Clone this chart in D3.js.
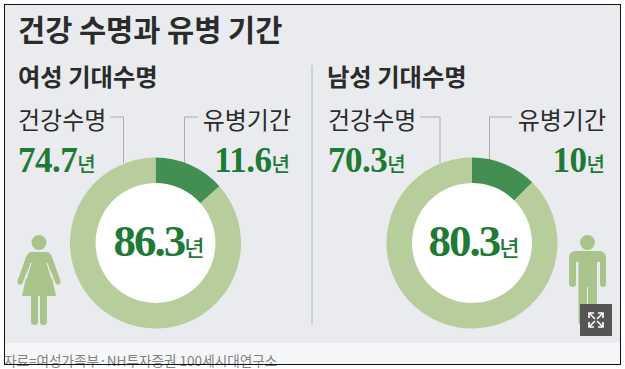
<!DOCTYPE html>
<html>
<head>
<meta charset="utf-8">
<script src="https://cdn.jsdelivr.net/npm/d3@7"></script>
<style>
  html, body { margin: 0; padding: 0; background: #fff; overflow: hidden; }
  svg { display: block; }
  text { font-family: "Noto Sans CJK KR", sans-serif; }
</style>
</head>
<body>
<script>
// Chart values
const groups = ["여성 기대수명", "남성 기대수명"];
const healthyYears = [74.7, 70.3];
const sickYears = [11.6, 10];
const totalYears = [86.3, 80.3];
const sliceNames = ["건강수명", "유병기간"];

const width = 625
const height = 369

const darkGreen = "#1f7a36"
const textColor = "#2b2b2b"
const sickColor = "#438f52"
const healthyColor = "#b7cd9c"
const iconColor = "#a9c48a"
const lineColor = "#a9abad"
const panelColor = "#e9ebee"

// Per panel layout
const cxs = [155.5, 472]
const totalX = [159, 474]
const groupX = [18, 327]
const leftLabelX = [18, 328]
const rightLabelEnd = [291, 606]
const leftLine = [[110, 123.5], [420, 440]]
const rightLine = [[198, 184.5], [512, 489.5]]
const cy = 243

const svg = d3.select("body")
  .append("svg")
  .attr("width", width)
  .attr("height", height);

// Background
svg.append("rect").attr("x", 4).attr("y", 4).attr("width", 616).attr("height", 339).attr("fill", panelColor);
svg.append("rect").attr("x", 4).attr("y", 343).attr("width", 616).attr("height", 21).attr("fill", "#f5f6f7");

// Title
svg.append("text")
  .attr("x", 18).attr("y", 41)
  .attr("font-size", 29.5).attr("font-weight", 700)
  .attr("fill", textColor)
  .text("건강 수명과 유병 기간");

// Divider
svg.append("line")
  .attr("x1", 312).attr("x2", 312)
  .attr("y1", 65).attr("y2", 325)
  .attr("stroke", "#b4b7ba").attr("stroke-width", 1);

const pie = d3.pie().sort(null).value(d => d);
const arc = d3.arc().innerRadius(60).outerRadius(85.5);

// Number followed by the small 년 unit
function valueLabel(x, y, value, size, anchor, unitSize, spacing) {
  const t = svg.append("text")
    .attr("x", x).attr("y", y)
    .attr("text-anchor", anchor);
  t.append("tspan")
    .attr("font-family", "'Liberation Serif', serif")
    .attr("font-size", size).attr("font-weight", 700)
    .attr("letter-spacing", spacing)
    .attr("fill", darkGreen)
    .text(value);
  t.append("tspan")
    .attr("font-size", unitSize).attr("font-weight", 500)
    .attr("fill", darkGreen)
    .text("년");
}

groups.forEach((g, i) => {
  // Group heading
  svg.append("text")
    .attr("x", groupX[i]).attr("y", 86)
    .attr("font-size", 24.3).attr("font-weight", 700)
    .attr("fill", textColor)
    .text(g);

  // Leader lines
  const line = d3.line();
  svg.append("path")
    .attr("d", line([[leftLine[i][0], 117], [leftLine[i][1], 117], [leftLine[i][1], 163]]))
    .attr("fill", "none").attr("stroke", lineColor);
  svg.append("path")
    .attr("d", line([[rightLine[i][0], 117], [rightLine[i][1], 117], [rightLine[i][1], 163]]))
    .attr("fill", "none").attr("stroke", lineColor);

  // Slice names
  svg.append("text")
    .attr("x", leftLabelX[i]).attr("y", 129)
    .attr("font-size", 24).attr("font-weight", 400)
    .attr("fill", textColor)
    .text(sliceNames[0]);
  svg.append("text")
    .attr("x", rightLabelEnd[i]).attr("y", 129)
    .attr("text-anchor", "end")
    .attr("font-size", 24).attr("font-weight", 400)
    .attr("fill", textColor)
    .text(sliceNames[1]);

  // Values above the ring
  valueLabel(leftLabelX[i], 172, healthyYears[i], 35, "start", 20, -0.5);
  valueLabel(rightLabelEnd[i] - 1, 172, sickYears[i], 35, "end", 20, -0.5);

  // Ring
  const ring = svg.append("g").attr("transform", `translate(${cxs[i]},${cy})`);
  ring.append("circle").attr("r", 60).attr("fill", "#fff");
  ring.selectAll("path")
    .data(pie([sickYears[i], healthyYears[i]]))
    .join("path")
    .attr("d", arc)
    .attr("fill", (d, k) => k === 0 ? sickColor : healthyColor);

  // Total in the middle
  valueLabel(totalX[i], 256, totalYears[i], 45, "middle", 22, -2);
});

// Woman icon
const woman = svg.append("g").attr("fill", iconColor);
woman.append("circle").attr("cx", 39).attr("cy", 242.5).attr("r", 7.5);
woman.append("path").attr("d", "M32 252 H46 Q50 252 52 257 L60.5 281 Q61 285 58 284.5 Q56 285 55 282 L50 268 L56 296 H47 V322 Q47 325 43.5 325 Q40 325 40 322 V296 H38 V322 Q38 325 34.5 325 Q31 325 31 322 V296 H22 L28 268 L23 282 Q22 285 20 284.5 Q17 285 17.5 281 L26 257 Q28 252 32 252 Z");
woman.append("path").attr("d", "M31 263 L26 279 M47 263 L52 279")
  .attr("fill", "none").attr("stroke", panelColor).attr("stroke-width", 1.2);

// Man icon
const man = svg.append("g").attr("fill", iconColor);
man.append("circle").attr("cx", 587.5).attr("cy", 242.5).attr("r", 7.5);
man.append("path").attr("d", "M575 251 H600 Q606 252 606 258 V284 Q606 287 603 287 Q600 287 600 284 V262 H597 V322 Q597 325 592.5 325 Q588 325 588 322 V287 H587 V322 Q587 325 582.5 325 Q578.5 325 578.5 322 V262 H576 V284 Q576 287 572.5 287 Q569 287 569 284 V258 Q569 252 575 251 Z");

// Source line
svg.append("text")
  .attr("x", 4).attr("y", 366)
  .attr("font-size", 13.6)
  .attr("fill", "#808284")
  .text("자료=여성가족부·NH투자증권 100세시대연구소");

// Frame
svg.append("rect")
  .attr("x", 4.5).attr("y", 4.5).attr("width", 616).attr("height", 360)
  .attr("fill", "none").attr("stroke", "#111").attr("stroke-width", 1);

// Expand button
svg.append("rect").attr("x", 580).attr("y", 304).attr("width", 32).attr("height", 32).attr("fill", "#555");
const arrows = svg.append("g").attr("stroke", "#fff").attr("stroke-width", 1.6).attr("fill", "none");
[[589, 313, 1, 1], [603, 313, -1, 1], [589, 327, 1, -1], [603, 327, -1, -1]].forEach(a => {
  const [x, y, sx, sy] = a;
  arrows.append("path").attr("d", `M${x} ${y + 5 * sy} V${y} H${x + 5 * sx} M${x} ${y} L${x + 6 * sx} ${y + 6 * sy}`);
});
</script>
</body>
</html>
